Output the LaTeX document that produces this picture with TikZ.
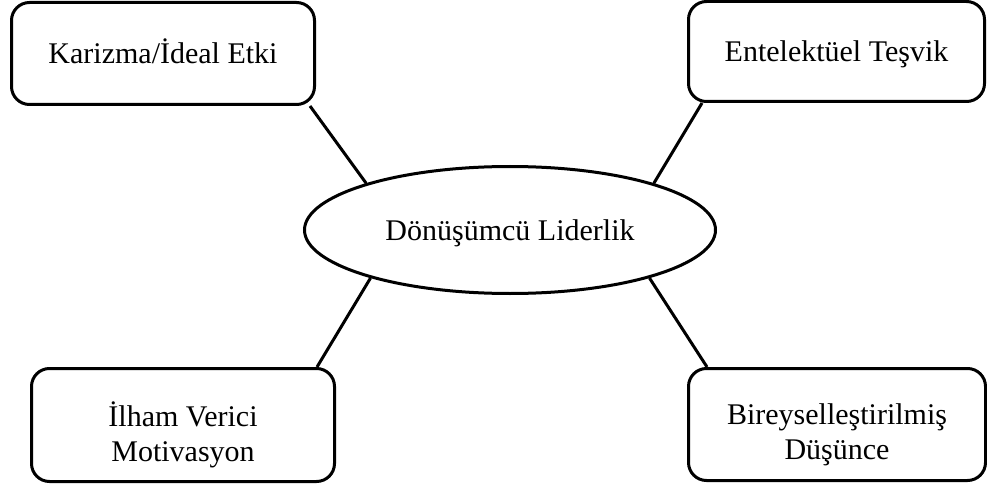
\documentclass[tikz,border=0pt]{standalone}
\usepackage{fontspec}
\setmainfont{Liberation Serif}
\usetikzlibrary{shapes.geometric}
\tikzset{
  every node/.style = {font = \fontsize{30}{35}\selectfont},
  dimension/.style = {draw, line width = 3pt, rounded corners = 18pt,
    inner sep = 0pt, align = center, text height = 26pt, text depth = 6pt,
    minimum width = 303pt, minimum height = 102pt},
  construct/.style = {draw, ellipse, line width = 3pt, inner sep = 0pt,
    text height = 26pt, text depth = 6pt,
    minimum width = 411pt, minimum height = 127pt},
  caption/.style = {align = center, inner sep = 0pt},
  link/.style = {line width = 3pt}
}

\begin{document}
\begin{tikzpicture}[x = 1pt, y = -1pt]

\useasboundingbox (0, 0) rectangle (987, 489);

%% Construct
\node [construct] (lead) at (510, 230) {Dönüşümcü Liderlik};

%% Dimensions
\node [dimension] (karizma) at (163, 53.5) {Karizma/İdeal Etki};
\node [dimension, minimum width = 296pt, minimum height = 100pt]
  (tesvik) at (836.5, 51.5) {Entelektüel Teşvik};
\node [dimension, minimum height = 113pt] (ilham) at (183, 425) {};
\node [caption] (ilhamtext) at ([yshift = -10pt] ilham) {İlham Verici\\Motivasyon};
\node [dimension, minimum width = 297pt, minimum height = 112pt]
  (bireysel) at (837, 424.5) {};
\node [caption] (bireyseltext) at ([yshift = -10pt] bireysel) {Bireyselleştirilmiş\\Düşünce};

%% Links
\draw [link] ([xshift = -6pt] karizma.south east) -- (lead.162);
\draw [link] ([xshift = 15pt] tesvik.south west) -- (lead.18);
\draw [link] ([xshift = -19pt] ilham.north east) -- (lead.199);
\draw [link] ([xshift = 20pt] bireysel.north west) -- (lead.341);

\end{tikzpicture}
\end{document}
